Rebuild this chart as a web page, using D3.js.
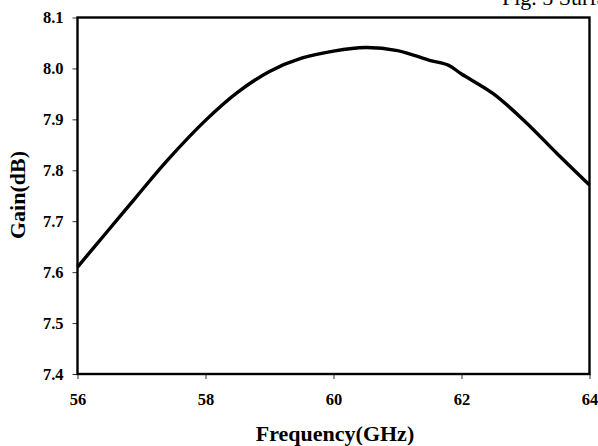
<!DOCTYPE html>
<html>
<head>
<meta charset="utf-8">
<script src="https://cdn.jsdelivr.net/npm/d3@7"></script>
<style>
  body { margin: 0; background: #fff; }
  text { font-family: "Liberation Serif", "Times New Roman", serif; font-weight: bold; fill: #000; }
</style>
</head>
<body>
<svg id="chart" width="598" height="446"></svg>
<script>
// values
const freq = [56, 56.4, 56.9, 57.4, 58, 58.5, 59, 59.5, 60, 60.5, 61, 61.5, 61.8, 62, 62.5, 63, 63.5, 64];
const gain = [7.61, 7.67, 7.745, 7.819, 7.898, 7.953, 7.994, 8.02, 8.034, 8.041, 8.035, 8.016, 8.006, 7.989, 7.95, 7.895, 7.832, 7.771];
const xTicks = [56, 58, 60, 62, 64];
const yTicks = [7.4, 7.5, 7.6, 7.7, 7.8, 7.9, 8.0, 8.1];

const svg = d3.select("#chart");
const margin = { top: 17.5, right: 8.5, bottom: 72, left: 77.5 },
  width = 598 - margin.left - margin.right,
  height = 446 - margin.top - margin.bottom;

const x = d3.scaleLinear().domain([56, 64]).range([0, width]);
const y = d3.scaleLinear().domain([7.4, 8.1]).range([height, 0]);

const g = svg.append("g")
  .attr("transform", "translate(" + margin.left + "," + margin.top + ")");

// axes
const xAxis = g.append("g")
  .attr("transform", "translate(0," + height + ")")
  .call(d3.axisBottom(x).tickValues(xTicks).tickSize(5).tickPadding(14).tickFormat(d3.format("d")));
const yAxis = g.append("g")
  .call(d3.axisLeft(y).tickValues(yTicks).tickSize(5).tickPadding(9).tickFormat(d3.format(".1f")));

[xAxis, yAxis].forEach((a) => {
  a.attr("font-size", null);
  a.select(".domain").remove();
  a.selectAll("line").attr("stroke", "#333").attr("stroke-width", 1);
  a.selectAll("text")
    .style("font-size", "16.5px")
    .style("font-family", "Liberation Serif, serif")
    .style("font-weight", "bold");
});

// frame
g.append("rect")
  .attr("width", width)
  .attr("height", height)
  .attr("fill", "none")
  .attr("stroke", "#000")
  .attr("stroke-width", 2.4);

// gain curve
const data = freq.map((f, i) => ({ f: f, v: gain[i] }));
const line = d3.line()
  .curve(d3.curveCatmullRom.alpha(0.5))
  .x((d) => x(d.f))
  .y((d) => y(d.v));

g.append("path")
  .datum(data)
  .attr("d", line)
  .attr("fill", "none")
  .attr("stroke", "#000")
  .attr("stroke-width", 3.4)
  .attr("stroke-linejoin", "round");

// labels
svg.append("text")
  .attr("x", 335)
  .attr("y", 441)
  .attr("text-anchor", "middle")
  .style("font-size", "22px")
  .text("Frequency(GHz)");

svg.append("text")
  .attr("transform", "translate(25,195) rotate(-90)")
  .attr("text-anchor", "middle")
  .style("font-size", "22px")
  .text("Gain(dB)");

// caption, clipped by the top edge like in the source
svg.append("text")
  .attr("x", 502)
  .attr("y", 5)
  .style("font-size", "22px")
  .style("font-weight", "normal")
  .text("Fig. 5 Surface");
</script>
</body>
</html>
